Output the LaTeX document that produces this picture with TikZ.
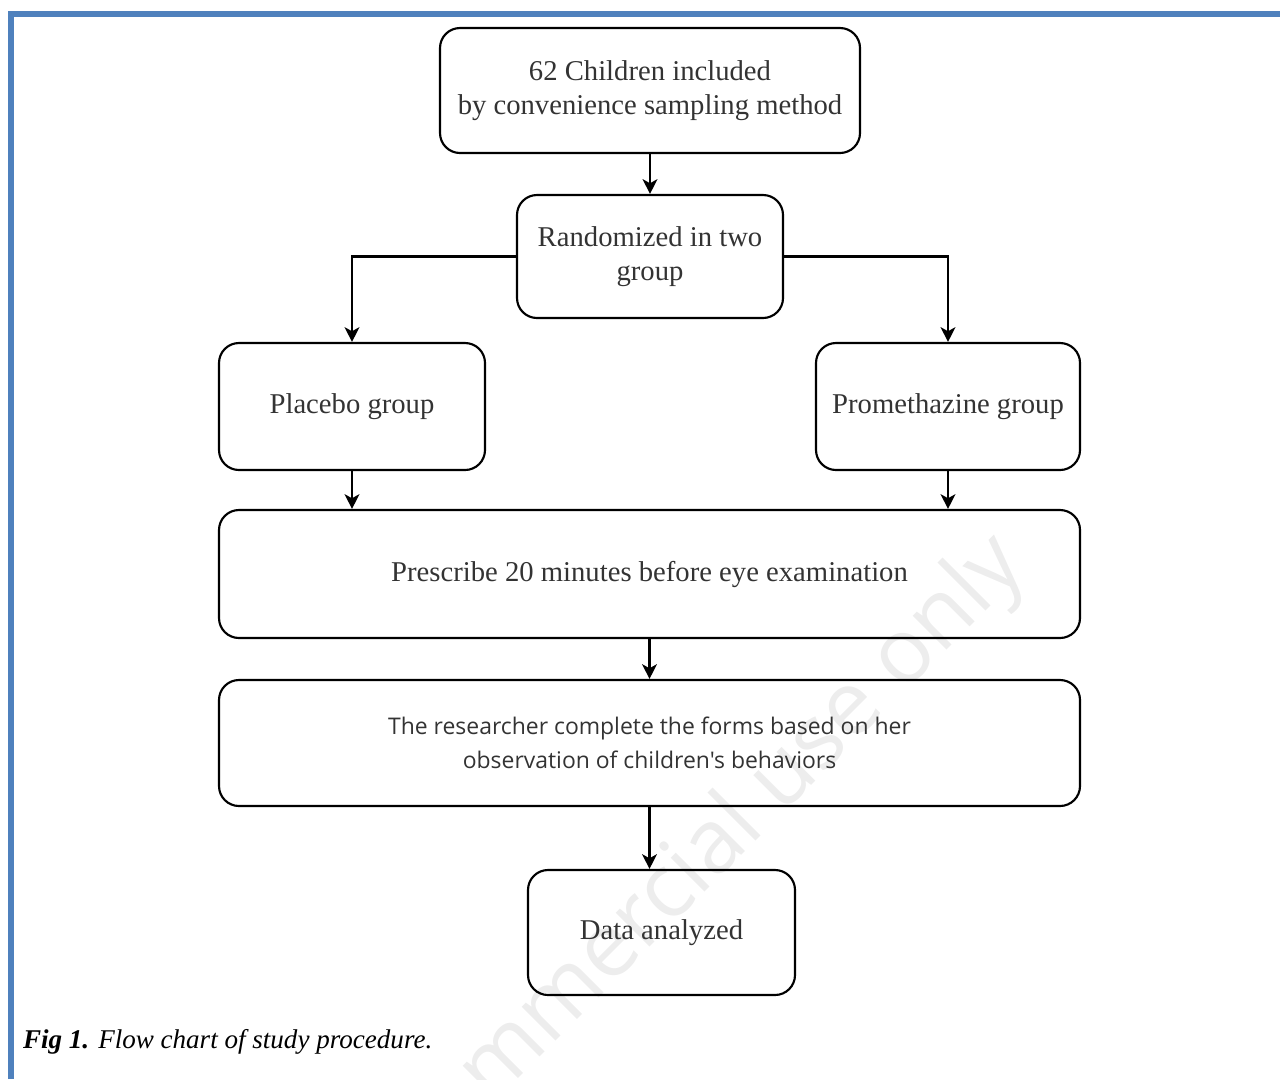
\documentclass[tikz,border=0pt]{standalone}
\usepackage{fontspec}
\setmainfont{Liberation Serif}
\newfontfamily\boxsans{Open Sans}
\usetikzlibrary{arrows.meta}
\definecolor{frameblue}{RGB}{79,129,189}
\begin{document}
\begin{tikzpicture}[x=0.75pt,y=-0.75pt,line width=1.6pt,
  every node/.style={font=\fontsize{21.5}{25.5}\selectfont,text=black!80,align=center,inner sep=1pt},
  box/.style={draw,rounded corners=15pt,line width=1.6pt},
  link/.style={line width=2pt,-{Stealth[length=11pt,width=11pt,inset=3pt]}}]
\useasboundingbox (0,0) rectangle (1280,1079);
\begin{scope}
\clip (0,0) rectangle (1280,1079);
\node[font=\boxsans\fontsize{67}{70}\selectfont,text=black!7,rotate=45,anchor=base east] (mark) at (1030,567) {Non-commercial use only};
\end{scope}
\draw[frameblue,line width=4.5pt] (11,1079) -- (11,14) -- (1280,14);
\node[box,minimum width=315pt,minimum height=93.75pt] (incl) at (650,90.5) {62 Children included\\by convenience sampling method};
\node[box,minimum width=199.5pt,minimum height=92.25pt] (split) at (650,256.5) {Randomized in two\\group};
\node[box,minimum width=199.5pt,minimum height=95.25pt] (placebo) at (352,406.5) {Placebo group};
\node[box,minimum width=198pt,minimum height=95.25pt] (prometh) at (948,406.5) {Promethazine group};
\node[box,minimum width=645.75pt,minimum height=96pt] (prescribe) at (649.5,574) {Prescribe 20 minutes before eye examination};
\node[box,minimum width=645.75pt,minimum height=94.5pt,font=\boxsans\fontsize{17.2}{25.5}\selectfont] (observe) at (649.5,743) {The researcher complete the forms based on her\\observation of children's behaviors};
\node[box,minimum width=200.25pt,minimum height=93.75pt] (data) at (661.5,932.5) {Data analyzed};
\draw[link] (incl) -- (split);
\draw[link] (split.west) -| (placebo);
\draw[link] (split.east) -| (prometh);
\draw[link] (placebo) -- (placebo.south |- prescribe.north);
\draw[link] (prometh) -- (prometh.south |- prescribe.north);
\draw[link] (prescribe) -- (observe);
\draw[link] (observe.south) -- (observe.south |- data.north);
\node[anchor=base west,font=\fontsize{20.3}{22}\selectfont\itshape,text=black,inner sep=0pt] (caption) at (22,1048) {\textbf{Fig 1.} Flow chart of study procedure.};
\end{tikzpicture}
\end{document}
